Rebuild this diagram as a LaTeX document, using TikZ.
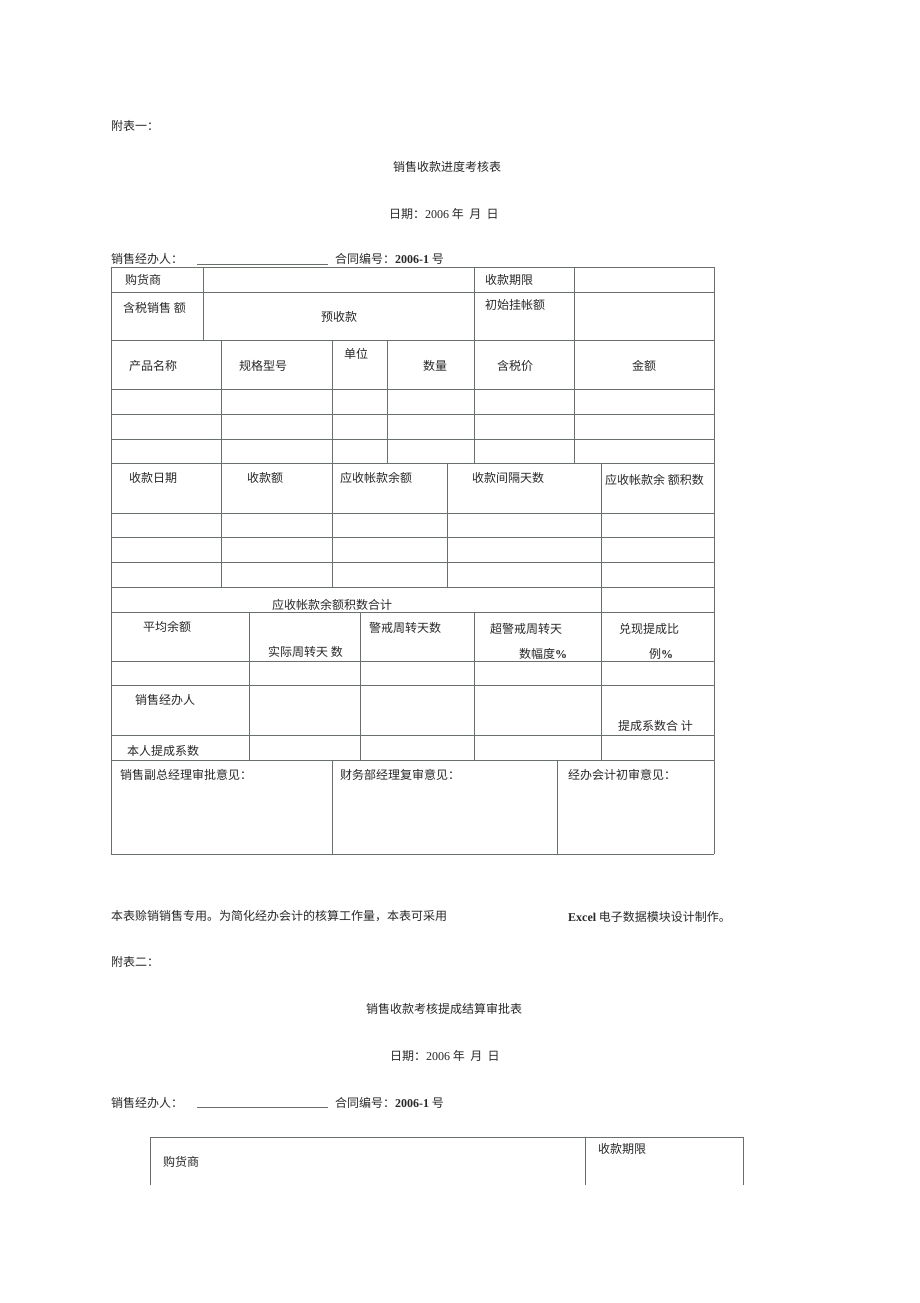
\documentclass[tikz,border=0pt]{standalone}
\usepackage{fontspec}
\setmainfont{Liberation Serif}
\newfontfamily\cjk{Noto Sans CJK SC}
\newcommand{\lat}[1]{{\rmfamily\bfseries #1}}
\definecolor{rulegray}{RGB}{105,112,105}
\definecolor{inkgray}{RGB}{40,40,40}

\tikzset{
  cell/.style={anchor=west, inner sep=0pt, text height=1.1em, text depth=0.04em,
    font=\cjk\fontsize{12}{14}\selectfont, text=inkgray},
  rule/.style={draw=rulegray, line width=0.8pt},
}

\begin{document}
\begin{tikzpicture}[x=1pt, y=-1pt]
    \useasboundingbox[fill=white] (0,0) rectangle (920,1303);

    % heading of table one
    \node[cell] (tabA) at (111,125) {附表一：};
    \node[cell, anchor=center] (titleA) at (447,166) {销售收款进度考核表};
    \node[cell] (dateA) at (389,213) {日期：{\rmfamily 2006} 年 \ 月 \ 日};
    \node[cell] (agentA) at (111,258) {销售经办人：};
    \draw[rule, line width=0.5pt] (197,264) -- (328,264);
    \node[cell] (contractA) at (335,258) {合同编号：\lat{2006-1} 号};

    % table one, rows
    \foreach \y in {267,292,340,389,414,439,463,513,537,562,587,612,661,685,735,760,854}
        \draw[rule] (111,\y) -- (714,\y);
    \draw[rule] (111,267) -- (111,854);
    \draw[rule] (714,267) -- (714,854);
    % table one, columns
    \foreach \x in {203,474,574}
        \draw[rule] (\x,267) -- (\x,340);
    \foreach \x in {221,332,387,474,574}
        \draw[rule] (\x,340) -- (\x,463);
    \foreach \x in {221,332,447,601}
        \draw[rule] (\x,463) -- (\x,587);
    \draw[rule] (601,587) -- (601,612);
    \foreach \x in {249,360,474,601}
        \draw[rule] (\x,612) -- (\x,760);
    \foreach \x in {332,557}
        \draw[rule] (\x,760) -- (\x,854);

    \node[cell] (buyer) at (125,279) {购货商};
    \node[cell] (term) at (485,279) {收款期限};
    \node[cell] (salesTax) at (123,307) {含税销售 额};
    \node[cell, anchor=center] (prepay) at (339,316) {预收款};
    \node[cell] (initial) at (485,304) {初始挂帐额};

    \node[cell] (product) at (129,365) {产品名称};
    \node[cell] (model) at (239,365) {规格型号};
    \node[cell] (unit) at (344,353) {单位};
    \node[cell] (qty) at (423,365) {数量};
    \node[cell] (price) at (497,365) {含税价};
    \node[cell, anchor=center] (amount) at (644,365) {金额};

    \node[cell] (payDate) at (129,477) {收款日期};
    \node[cell] (payAmt) at (247,477) {收款额};
    \node[cell] (balance) at (340,477) {应收帐款余额};
    \node[cell] (interval) at (472,477) {收款间隔天数};
    \node[cell] (product2) at (605,479) {应收帐款余 额积数};

    \node[cell] (total) at (272,604) {应收帐款余额积数合计};

    \node[cell] (avg) at (143,626) {平均余额};
    \node[cell] (actual) at (268,651) {实际周转天 数};
    \node[cell] (alert) at (369,627) {警戒周转天数};
    \node[cell] (overA) at (490,628) {超警戒周转天};
    \node[cell] (overB) at (519,653) {数幅度\lat{\%}};
    \node[cell] (ratioA) at (619,628) {兑现提成比};
    \node[cell] (ratioB) at (649,653) {例\lat{\%}};

    \node[cell] (agentRow) at (135,699) {销售经办人};
    \node[cell] (coefSum) at (618,725) {提成系数合 计};
    \node[cell] (ownCoef) at (127,750) {本人提成系数};

    \node[cell] (vpNote) at (120,774) {销售副总经理审批意见：};
    \node[cell] (finNote) at (340,774) {财务部经理复审意见：};
    \node[cell] (accNote) at (568,774) {经办会计初审意见：};

    % remark
    \node[cell] (remarkA) at (111,915) {本表赊销销售专用。为简化经办会计的核算工作量，本表可采用};
    \node[cell] (remarkB) at (568,916) {\lat{Excel} 电子数据模块设计制作。};

    % heading of table two
    \node[cell] (tabB) at (111,961) {附表二：};
    \node[cell] (titleB) at (366,1008) {销售收款考核提成结算审批表};
    \node[cell] (dateB) at (390,1055) {日期：{\rmfamily 2006} 年 \ 月 \ 日};
    \node[cell] (agentB) at (111,1102) {销售经办人：};
    \draw[rule, line width=0.5pt] (197,1107) -- (328,1107);
    \node[cell] (contractB) at (335,1102) {合同编号：\lat{2006-1} 号};

    % table two
    \draw[rule] (150,1185) -- (150,1137) -- (743,1137) -- (743,1185);
    \draw[rule] (585,1137) -- (585,1185);
    \node[cell] (buyerB) at (163,1161) {购货商};
    \node[cell] (termB) at (598,1148) {收款期限};
\end{tikzpicture}
\end{document}
